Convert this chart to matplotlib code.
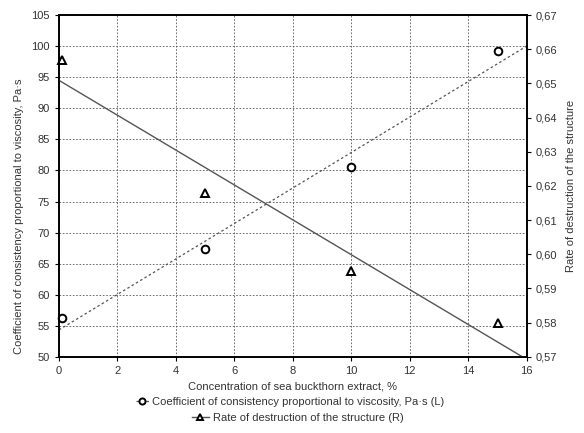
import matplotlib
matplotlib.use("Agg")
import matplotlib.pyplot as plt
import numpy as np
from matplotlib.ticker import FuncFormatter

plt.rcParams['font.family'] = ['Liberation Sans', 'DejaVu Sans']

# measured points
conc = [0.1, 5, 10, 15]
consistency = [56.3, 67.3, 80.5, 99.2]      # Pa·s, left axis
destruction = [0.657, 0.618, 0.595, 0.580]  # right axis

# linear fits through the points
k1, b1 = np.polyfit(conc, consistency, 1)
k2, b2 = np.polyfit(conc, destruction, 1)
xfit = np.linspace(0, 16, 50)

fig, ax1 = plt.subplots(figsize=(5.84, 4.33), dpi=100)
fig.subplots_adjust(left=0.101, right=0.902, top=0.965, bottom=0.176)
ax2 = ax1.twinx()

l1, = ax1.plot(xfit, k1 * xfit + b1, color='#555555', ls=(0, (2, 2)), lw=0.9)
p1, = ax1.plot(conc, consistency, 'o', mfc='white', mec='black', mew=1.4, ms=5.5, clip_on=False)
l2, = ax2.plot(xfit, k2 * xfit + b2, color='#555555', ls='-', lw=1.0)
p2, = ax2.plot(conc, destruction, '^', mfc='white', mec='black', mew=1.4, ms=5.5, clip_on=False)

ax1.set_xlim(0, 16)
ax1.set_ylim(50, 105)
ax2.set_ylim(0.57, 0.67)
ax1.set_xticks(np.arange(0, 17, 2))
ax1.set_yticks(np.arange(50, 106, 5))
ax2.set_yticks(np.arange(0.57, 0.6701, 0.01))
ax2.yaxis.set_major_formatter(FuncFormatter(lambda v, p: f"{v:.2f}".replace('.', ',')))

ax1.grid(True, color='#555555', ls=(0, (2, 2)), lw=0.6)
ax1.set_axisbelow(True)

for ax in (ax1, ax2):
    ax.tick_params(labelsize=8, length=3, color='black', labelcolor='#333333')
    for s in ax.spines.values():
        s.set_linewidth(1.2)

ax1.set_xlabel('Concentration of sea buckthorn extract, %', fontsize=8, color='#333333', labelpad=4)
ax1.set_ylabel('Coefficient of consistency proportional to viscosity, Pa·s', fontsize=8, color='#333333')
ax1.yaxis.set_label_coords(-0.075, 0.41)
ax2.set_ylabel('Rate of destruction of the structure', fontsize=8, color='#333333', labelpad=6)

# two centred legend lines (fig.legend keeps both)
fig.legend([(l1, p1)], ['Coefficient of consistency proportional to viscosity, Pa·s (L)'],
           loc='center', bbox_to_anchor=(0.497, 0.072), frameon=False, fontsize=8,
           handlelength=1.2, handletextpad=0.3, labelcolor='#333333', borderpad=0,
           markerscale=0.8)
fig.legend([(l2, p2)], ['Rate of destruction of the structure (R)'],
           loc='center', bbox_to_anchor=(0.51, 0.035), frameon=False, fontsize=8,
           handlelength=1.5, handletextpad=0.4, labelcolor='#333333', borderpad=0,
           markerscale=0.8)

plt.savefig('out.png', dpi=100)
